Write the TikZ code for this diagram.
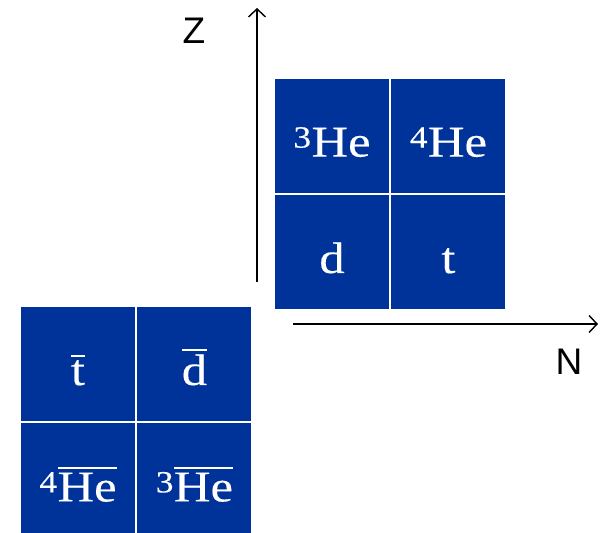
\documentclass[tikz,border=0pt]{standalone}
\usepackage{fontspec}
\newfontfamily\axisfont{Liberation Sans}
\newfontfamily\cellfont{Liberation Serif}[FakeStretch=1.15,FakeBold=0.3]
\usetikzlibrary{arrows.meta,positioning}
\definecolor{nucblue}{RGB}{0,51,153}
\newcommand\antibar[1]{\vbox{\hrule height 1.6pt \kern 3.5pt \hbox{#1}}}

\begin{document}
\begin{tikzpicture}[x=1pt,y=1pt,
  cell/.style={fill=nucblue, text=white, minimum size=114pt, inner sep=0pt,
    text height=42pt, text depth=0pt, font=\cellfont\fontsize{44}{44}\selectfont},
  axis/.style={-{Straight Barb[length=8pt,width=17pt]}, line width=1.4pt},
  axislabel/.style={font=\axisfont\fontsize{37}{37}\selectfont}]
\useasboundingbox (0,0) rectangle (601,532);
% Nuclei
\node[cell] (d) at (332,280) {d};
\node[cell, right=2pt of d] (t) {t};
\node[cell, above=2pt of d] (he3) {\textsuperscript{3}He};
\node[cell, above=2pt of t] (he4) {\textsuperscript{4}He};
% Antinuclei
\node[cell] (tbar) at (78,168) {\antibar{t}};
\node[cell, right=2pt of tbar] (dbar) {\antibar{d}};
\node[cell, below=2pt of tbar] (he4bar) {\textsuperscript{4}\antibar{He}};
\node[cell, below=2pt of dbar] (he3bar) {\textsuperscript{3}\antibar{He}};
% Axes
\coordinate (zfoot) at (257,250);
\coordinate (ztip) at (257,524);
\coordinate (nfoot) at (293,208);
\coordinate (ntip) at (598,208);
\draw[axis] (zfoot) -- (ztip);
\draw[axis] (nfoot) -- (ntip);
\node[axislabel] (zlabel) at (194,501) {Z};
\node[axislabel] (nlabel) at (569,170) {N};
\end{tikzpicture}
\end{document}
